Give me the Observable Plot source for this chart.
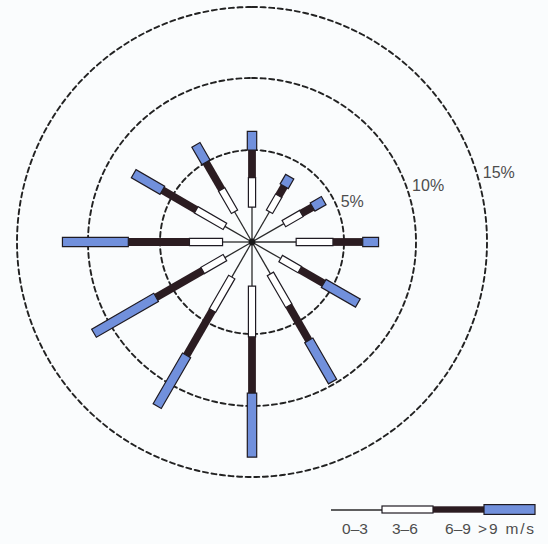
<!DOCTYPE html>
<html>
<head>
<meta charset="utf-8">
<script src="https://cdn.jsdelivr.net/npm/d3@7"></script>
<script src="https://cdn.jsdelivr.net/npm/@observablehq/plot@0.6"></script>
<style>
  html, body { margin: 0; padding: 0; background: #fafcfd; }
  #chart { width: 548px; height: 544px; overflow: hidden; }
  #chart svg { display: block; }
</style>
</head>
<body>
<div id="chart"></div>
<script>
// Wind directions, degrees clockwise from north
const directions = [0, 30, 60, 90, 120, 150, 180, 210, 240, 270, 300, 330];
// Share of time (%) per wind-speed class, one value per direction
const speed03 = [1.9, 1.9, 2.0, 2.4, 1.8, 2.0, 2.4, 2.2, 1.7, 1.6, 1.7, 1.9];
const speed36 = [1.6, 1.0, 1.1, 2.0, 1.2, 2.0, 2.8, 2.1, 1.4, 1.8, 1.8, 1.4];
const speed69 = [1.5, 0.6, 0.7, 1.9, 1.5, 2.5, 3.9, 3.4, 3.2, 3.8, 2.3, 1.7];
const speed9 = [1.3, 0.6, 0.7, 1.1, 2.6, 3.3, 4.5, 4.1, 5.0, 4.6, 2.3, 1.4];
// Speed classes for the key
const speedClasses = ["0–3", "3–6", "6–9", ">9 m/s"];
// Reference rings
const rings = [5, 10, 15];
const ringLabels = ["5%", "10%", "15%"];

// Layout and styles
const W = 548, H = 492;
const cx = 251.5, cy = 241.5;
const ringLabelAngle = [64, 70, 73];
const keyLabelPos = [0.46, 1.44, 2.48, 3.44];
const BLUE = "#7190dc", DARK = "#2b1c21", INK = "#1e1a22";
const FONT = "'Liberation Sans', Arial, sans-serif";

// Radial scale: % of time -> distance from the centre
const radius = d3.scaleLinear().domain([0, 5, 10, 15]).range([0, 92, 164, 235]);

// Polar projection: x = direction (deg), y = % of time
const polar = d3.geoTransform({
  point(angle, value) {
    const a = angle * Math.PI / 180, r = radius(value);
    this.stream.point(cx + r * Math.sin(a), cy - r * Math.cos(a));
  }
});

// Cumulative class boundaries along each spoke
const rows = directions.map((dir, i) => {
  const c1 = speed03[i];
  const c2 = c1 + speed36[i];
  const c3 = c2 + speed69[i];
  const c4 = c3 + speed9[i];
  return {dir, c0: 0, c1, c2, c3, c4};
});

const ringPoints = rings.flatMap((value) =>
  d3.range(0, 361, 1).map((angle) => ({angle, value}))
);

// Outlined box drawn along the spoke, r = half thickness
const box = {draw(context, l, r) { context.rect(-r, -l, 2 * r, l); }};

const segment = (from, to, r, fill, stroke) =>
  Plot.vector(rows, {
    x: "dir", y: from, rotate: "dir", anchor: "start",
    length: (d) => radius(d[to]) - radius(d[from]),
    shape: box, r, fill, stroke,
    strokeWidth: 1.2, strokeLinejoin: "miter", strokeLinecap: "butt"
  });

const chart = Plot.plot({
  width: W, height: H, margin: 0,
  projection: polar,
  length: {type: "identity"},
  style: {background: "transparent", fontFamily: FONT},
  marks: [
    Plot.line(ringPoints, {
      x: "angle", y: "value", z: "value",
      stroke: "#222", strokeWidth: 1.9, strokeDasharray: "5,3.6"
    }),
    Plot.link(rows, {
      x1: "dir", y1: "c0", x2: "dir", y2: "c1",
      stroke: "#2a2a2a", strokeWidth: 1.3
    }),
    segment("c1", "c2", 3.6, "white", INK),
    segment("c2", "c3", 3.9, DARK, "none"),
    segment("c3", "c4", 4.7, BLUE, INK),
    Plot.dot([{angle: 0, value: 0}], {x: "angle", y: "value", r: 3.4, fill: "#1a1a1a"}),
    Plot.text(rings, {
      x: (d, i) => ringLabelAngle[i], y: (d) => d,
      text: (d, i) => ringLabels[i],
      textAnchor: "start", dx: 6, fontSize: 16, fill: "#4d4d4d"
    })
  ]
});

// Key: thin line for the lowest class, then one box per class
const keyX = speedClasses.map((d, i) => i);
const key = Plot.plot({
  width: W, height: 544 - H, margin: 0,
  x: {domain: [0, speedClasses.length], range: [331, 535], axis: null},
  y: {domain: ["key", "label"], range: [7, 46], padding: 0, axis: null},
  style: {background: "transparent", fontFamily: FONT},
  marks: [
    Plot.ruleY(["key"], {x1: keyX[0], x2: keyX[1], y: (d) => d, stroke: "#2a2a2a", strokeWidth: 1.3}),
    Plot.barX(["key"], {x1: keyX[1], x2: keyX[2], y: (d) => d, insetTop: 6, insetBottom: 6,
      fill: "white", stroke: INK, strokeWidth: 1.2}),
    Plot.barX(["key"], {x1: keyX[2], x2: keyX[3], y: (d) => d, insetTop: 6.3, insetBottom: 6.3,
      fill: DARK}),
    Plot.barX(["key"], {x1: keyX[3], x2: speedClasses.length, y: (d) => d, insetTop: 4.6, insetBottom: 4.6,
      fill: BLUE, stroke: INK, strokeWidth: 1.2}),
    Plot.text(speedClasses, {
      x: (d, i) => keyLabelPos[i], y: () => "label", text: (d) => d,
      fontSize: 15.5, fill: "#4d4d4d"
    })
  ]
});
for (const t of key.querySelectorAll("text")) {
  if (t.textContent.includes("m/s")) t.setAttribute("letter-spacing", "1.8");
}

const root = document.getElementById("chart");
root.append(chart, key);
</script>
</body>
</html>
